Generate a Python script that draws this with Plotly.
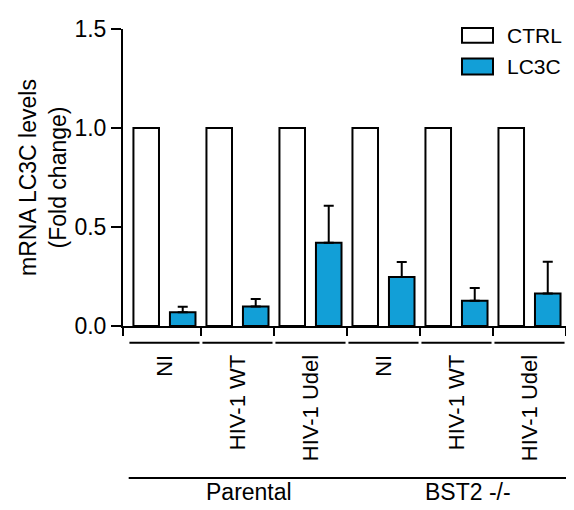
import plotly.graph_objects as go

# ---- data ----
conditions = ["NI", "HIV-1 WT", "HIV-1 Udel", "NI", "HIV-1 WT", "HIV-1 Udel"]
cell_lines = ["Parental", "BST2 -/-"]
ctrl_values = [1.0, 1.0, 1.0, 1.0, 1.0, 1.0]
lc3c_values = [0.069, 0.099, 0.42, 0.248, 0.127, 0.164]
lc3c_err = [0.028, 0.037, 0.187, 0.075, 0.065, 0.161]
y_tickvals = [0.0, 0.5, 1.0, 1.5]
y_ticktext = ["0.0", "0.5", "1.0", "1.5"]

# ---- style ----
BLUE = "#129FD7"
FONT = "Liberation Sans, Arial, sans-serif"
FS = 22
OFF = 8  # page body margin
W, H = 574 - OFF, 510 - OFF
ML, MR, MT, MB = 123 - OFF, 8, 25 - OFF, 184
PW = W - ML - MR
PH = H - MT - MB

pos = list(range(len(conditions)))
xr0, xr1 = -0.568, 5.5
yr = [0, 1.5]


def xdom(x):
    return (x - xr0) / (xr1 - xr0)


def xpaper(px_ref):
    return (px_ref - OFF - ML) / PW


def ypaper(py_ref):
    return (H - MB - (py_ref - OFF)) / PH


fig = go.Figure()
fig.add_trace(go.Bar(
    x=pos, y=ctrl_values, name="CTRL",
    marker=dict(color="white", line=dict(color="black", width=2)),
    showlegend=False,
))
fig.add_trace(go.Bar(
    x=pos, y=lc3c_values, name="LC3C",
    marker=dict(color=BLUE, line=dict(color="black", width=2)),
    error_y=dict(type="data", array=lc3c_err, arrayminus=[0] * len(lc3c_err),
                 symmetric=False, color="black", thickness=2, width=5),
    showlegend=False,
))

shapes = []
annotations = []

# per-condition underline brackets
for p in pos:
    shapes.append(dict(type="line", xref="x domain", yref="paper",
                       x0=xdom(p - 0.48), x1=xdom(p + 0.48),
                       y0=ypaper(343), y1=ypaper(343),
                       line=dict(color="black", width=2)))

# cell line group brackets
groups = [(pos[0], pos[2]), (pos[3], pos[5])]
for (a, b), name in zip(groups, cell_lines):
    shapes.append(dict(type="line", xref="x domain", yref="paper",
                       x0=xdom(a - 0.49), x1=xdom(b + 0.6),
                       y0=ypaper(480), y1=ypaper(480),
                       line=dict(color="black", width=2)))
    annotations.append(dict(text=name, xref="x domain", yref="paper",
                            x=xdom((a + b) / 2 + 0.16), y=ypaper(494),
                            xanchor="center", yanchor="middle", showarrow=False,
                            font=dict(family=FONT, size=23, color="black")))

# legend (drawn)
leg = [("CTRL", "white", 24, 39), ("LC3C", BLUE, 55, 71)]
for name, col, top, bot in leg:
    shapes.append(dict(type="rect", xref="paper", yref="paper",
                       x0=xpaper(462), x1=xpaper(493),
                       y0=ypaper(bot), y1=ypaper(top),
                       fillcolor=col, line=dict(color="black", width=2)))
    annotations.append(dict(text=name, xref="paper", yref="paper",
                            x=xpaper(505), y=ypaper((top + bot) / 2),
                            xanchor="left", yanchor="middle", showarrow=False,
                            font=dict(family=FONT, size=21, color="black")))

fig.update_layout(
    width=W, height=H,
    margin=dict(l=ML, r=MR, t=MT, b=MB),
    paper_bgcolor="white", plot_bgcolor="white",
    barmode="group", bargap=0.0, bargroupgap=0.3,
    font=dict(family=FONT, size=FS, color="black"),
    shapes=shapes, annotations=annotations,
    showlegend=False,
)
fig.update_xaxes(
    range=[xr0, xr1], tickmode="array", tickvals=pos, ticktext=conditions,
    tickangle=-90, ticks="", showline=True, linecolor="black", linewidth=2,
    showgrid=False, zeroline=False, ticklabelstandoff=18,
    tickfont=dict(family=FONT, size=22, color="black"),
    minor=dict(tickmode="array", tickvals=[xr0 + 0.002] + [p + 0.5 for p in pos],
               ticks="outside", ticklen=8, tickwidth=2, tickcolor="black", showgrid=False),
)
fig.update_yaxes(
    range=yr, tickmode="array", tickvals=y_tickvals, ticktext=y_ticktext,
    ticks="outside", ticklen=10, tickwidth=2, tickcolor="black",
    showline=True, linecolor="black", linewidth=2, showgrid=False, zeroline=False,
    tickfont=dict(family=FONT, size=23, color="black"),
    title=dict(text="mRNA LC3C levels<br>(Fold change)", standoff=1,
               font=dict(family=FONT, size=23, color="black")),
)

fig.write_html("out.html")
